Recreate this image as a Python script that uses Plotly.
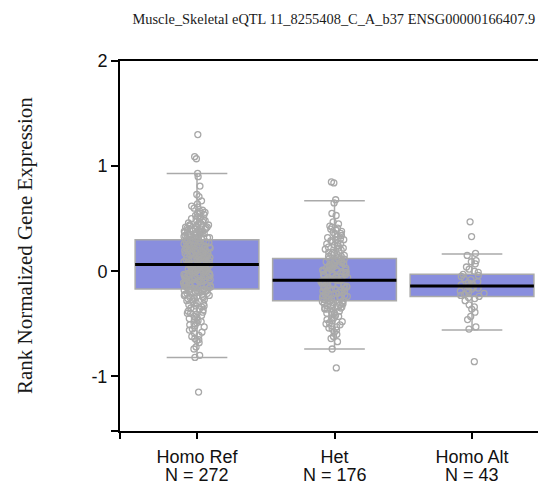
import plotly.graph_objects as go

title_text = "Muscle_Skeletal eQTL 11_8255408_C_A_b37 ENSG00000166407.9"
y_title = "Rank Normalized Gene Expression"
categories = ["Homo Ref", "Het", "Homo Alt"]
counts = [272, 176, 43]
positions = [0, 1, 2]

# box statistics
q1 = [-0.17, -0.28, -0.24]
median = [0.063, -0.085, -0.14]
q3 = [0.30, 0.12, -0.028]
lower_whisker = [-0.82, -0.74, -0.56]
upper_whisker = [0.93, 0.67, 0.165]

homo_ref = [
    1.30, 1.09, 1.07, 0.93, 0.90, 0.81, 0.73, 0.71, 0.67, 0.64, 0.62,
    0.61, 0.60, 0.58, 0.57, 0.56, 0.55,
    0.55, 0.54, 0.53, 0.52, 0.51, 0.50, 0.49, 0.49, 0.48, 0.47, 0.47, 0.46, 0.45, 0.45,
    0.44, 0.44, 0.43, 0.43, 0.42, 0.42, 0.42, 0.41, 0.41, 0.40, 0.40, 0.40, 0.39, 0.39,
    0.38, 0.38, 0.38, 0.37, 0.37, 0.36, 0.36, 0.36, 0.35, 0.35, 0.35, 0.34, 0.34, 0.33,
    0.33, 0.33, 0.32, 0.32, 0.32, 0.31, 0.31, 0.31, 0.30,
    0.29, 0.29, 0.29, 0.28, 0.28, 0.28, 0.27, 0.27, 0.27, 0.26, 0.26, 0.26, 0.25, 0.25,
    0.25, 0.24, 0.24, 0.24, 0.23, 0.23, 0.23, 0.22, 0.22, 0.22, 0.21, 0.21, 0.21, 0.20,
    0.20, 0.20, 0.19, 0.19, 0.19, 0.18, 0.18, 0.18, 0.17, 0.17, 0.17, 0.16, 0.16, 0.16,
    0.15, 0.15, 0.15, 0.14, 0.14, 0.14, 0.13, 0.13, 0.13, 0.12, 0.12, 0.12, 0.11, 0.11,
    0.11, 0.10, 0.10, 0.10, 0.09, 0.09, 0.09, 0.08, 0.08, 0.08, 0.07, 0.07,
    0.06, 0.06, 0.05, 0.05, 0.05, 0.04, 0.04, 0.04, 0.03, 0.03, 0.03, 0.02, 0.02, 0.02,
    0.01, 0.01, 0.01, 0.00, 0.00, 0.00, -0.01, -0.01, -0.01, -0.02, -0.02, -0.02,
    -0.03, -0.03, -0.03, -0.04, -0.04, -0.04, -0.05, -0.05, -0.05, -0.06, -0.06, -0.06,
    -0.07, -0.07, -0.07, -0.08, -0.08, -0.08, -0.09, -0.09, -0.09, -0.10, -0.10, -0.10,
    -0.11, -0.11, -0.11, -0.12, -0.12, -0.12, -0.13, -0.13, -0.13, -0.14, -0.14, -0.14,
    -0.15, -0.15, -0.15, -0.16, -0.16, -0.16,
    -0.17, -0.17, -0.18, -0.18, -0.18, -0.19, -0.19, -0.20, -0.20, -0.20, -0.21, -0.21,
    -0.22, -0.22, -0.23, -0.23, -0.24, -0.24, -0.25, -0.25, -0.26, -0.26, -0.27, -0.27,
    -0.28, -0.29, -0.30,
    -0.31, -0.32, -0.33, -0.33, -0.34, -0.35, -0.36, -0.36, -0.37, -0.38, -0.39, -0.40,
    -0.40, -0.41, -0.42, -0.43, -0.44, -0.45,
    -0.46, -0.47, -0.48, -0.49, -0.50, -0.51, -0.52, -0.53, -0.55, -0.56, -0.58, -0.59,
    -0.61, -0.62, -0.64, -0.65, -0.66, -0.68,
    -0.72, -0.74, -0.80, -0.82, -1.15,
]

het = [
    0.85, 0.84, 0.68, 0.65, 0.55, 0.53, 0.47, 0.45, 0.43, 0.42, 0.41,
    0.40, 0.39, 0.38, 0.37, 0.36, 0.35, 0.34, 0.33,
    0.32, 0.31, 0.30, 0.30, 0.29, 0.28, 0.27, 0.26, 0.26, 0.25, 0.24, 0.23, 0.22, 0.22,
    0.21, 0.20, 0.19, 0.18, 0.18, 0.17, 0.16, 0.15, 0.14, 0.14, 0.13,
    0.12, 0.12, 0.115, 0.11, 0.11, 0.10, 0.10, 0.09, 0.09, 0.08, 0.08, 0.07, 0.07,
    0.06, 0.06, 0.05, 0.05, 0.04, 0.04, 0.03, 0.03, 0.02, 0.02, 0.01, 0.01, 0.00, 0.00,
    -0.01, -0.01, -0.02, -0.02, -0.03, -0.03, -0.04, -0.04, -0.05, -0.05, -0.06, -0.06,
    -0.07, -0.07, -0.08, -0.08, -0.08,
    -0.09, -0.09, -0.095, -0.10, -0.10, -0.11, -0.11, -0.12, -0.12, -0.13, -0.13,
    -0.14, -0.14, -0.145, -0.15, -0.15, -0.16, -0.16, -0.17, -0.17, -0.18, -0.18,
    -0.19, -0.19, -0.20, -0.20, -0.205, -0.21, -0.21, -0.22, -0.22, -0.23, -0.23,
    -0.24, -0.24, -0.25, -0.25, -0.255, -0.26, -0.26, -0.27, -0.27, -0.28, -0.28,
    -0.29, -0.29, -0.30, -0.30, -0.31, -0.31, -0.32, -0.32, -0.33, -0.33, -0.34, -0.34,
    -0.35, -0.35, -0.36, -0.36, -0.37, -0.38, -0.39, -0.40, -0.40, -0.41, -0.42, -0.43,
    -0.44, -0.45,
    -0.46, -0.47, -0.48, -0.49, -0.50, -0.51, -0.52, -0.53, -0.54, -0.55, -0.56, -0.58,
    -0.60, -0.62, -0.64, -0.67, -0.74, -0.92,
]

homo_alt = [
    0.47, 0.33, 0.17, 0.15, 0.10, 0.09, 0.07, 0.04, 0.02, 0.00, -0.01,
    -0.03, -0.04, -0.05, -0.07, -0.08, -0.10, -0.11, -0.12, -0.13, -0.14,
    -0.15, -0.16, -0.17, -0.18, -0.19, -0.20, -0.21, -0.22, -0.23, -0.24, -0.25,
    -0.26, -0.28, -0.32, -0.34, -0.36, -0.39, -0.43, -0.46, -0.53, -0.55, -0.86,
]

samples = [homo_ref, het, homo_alt]

y_ticks = [-1, 0, 1, 2]
y_range = [-1.52, 2.0]
x_range = [-0.56, 2.538]

box_fill = "rgb(137,142,222)"
grey = "rgb(170,170,170)"
point_grey = "rgb(168,168,168)"
label_font = dict(family="Liberation Sans", size=18, color="#111")

fig = go.Figure()

# boxes (precomputed statistics)
fig.add_trace(go.Box(
    x=positions, q1=q1, median=median, q3=q3,
    lowerfence=lower_whisker, upperfence=upper_whisker,
    width=0.9, whiskerwidth=0.49, boxpoints=False,
    fillcolor=box_fill, line=dict(color=grey, width=1.5),
    showlegend=False, hoverinfo="skip",
))

# jittered sample points
for pos, vals in zip(positions, samples):
    fig.add_trace(go.Box(
        y=vals, x0=pos, width=0.9,
        boxpoints="all", jitter=0.22, pointpos=0,
        fillcolor="rgba(0,0,0,0)", line=dict(color="rgba(0,0,0,0)", width=0),
        marker=dict(symbol="circle-open", color=point_grey, size=6,
                    line=dict(width=1.3)),
        showlegend=False, hoverinfo="skip",
    ))

# medians drawn on top
fig.add_trace(go.Box(
    x=positions, q1=median, median=median, q3=median,
    lowerfence=median, upperfence=median,
    width=0.9, whiskerwidth=0, boxpoints=False,
    fillcolor="rgba(0,0,0,0)", line=dict(color="black", width=3),
    showlegend=False, hoverinfo="skip",
))

x_ticktext = [""] + categories
y_tickvals = [y_range[0]] + y_ticks
y_ticktext = [""] + [str(t) for t in y_ticks]

annotations = [dict(text=y_title, xref="paper", yref="paper", x=(25 - 120) / 426, y=0.5,
                    textangle=-90, showarrow=False, xanchor="center", yanchor="middle",
                    font=dict(family="Liberation Serif", size=21, color="#1a1a1a"))]
for pos, n in zip(positions, counts):
    annotations.append(dict(text=f"N = {n}", xref="x", yref="paper", x=pos, y=-44 / 370,
                            showarrow=False, xanchor="center", yanchor="middle",
                            height=20, font=label_font))

# the page body adds an 8px offset; the figure is sized to fill the rest
fig.update_layout(
    width=538, height=477,
    margin=dict(l=112, r=0, t=53, b=54, autoexpand=False),
    paper_bgcolor="white", plot_bgcolor="white",
    boxmode="overlay",
    title=dict(text=title_text, x=0.502, xref="paper", y=1 - 11 / 477,
               yref="container", yanchor="middle", xanchor="center",
               font=dict(family="Liberation Serif", size=14.4, color="#1a1a1a")),
    xaxis=dict(range=x_range, tickvals=[x_range[0]] + positions, ticktext=x_ticktext,
               showline=True, linecolor="black", linewidth=2, mirror=True,
               ticks="outside", ticklen=6, tickwidth=2, tickcolor="black",
               ticklabelstandoff=2,
               showgrid=False, zeroline=False, automargin=False,
               tickfont=label_font),
    yaxis=dict(range=y_range, tickvals=y_tickvals, ticktext=y_ticktext,
               showline=True, linecolor="black", linewidth=2,
               ticks="outside", ticklen=7, tickwidth=2, tickcolor="black",
               showgrid=False, zeroline=False, automargin=False,
               tickfont=label_font),
    annotations=annotations,
)

fig.write_html("out.html")
